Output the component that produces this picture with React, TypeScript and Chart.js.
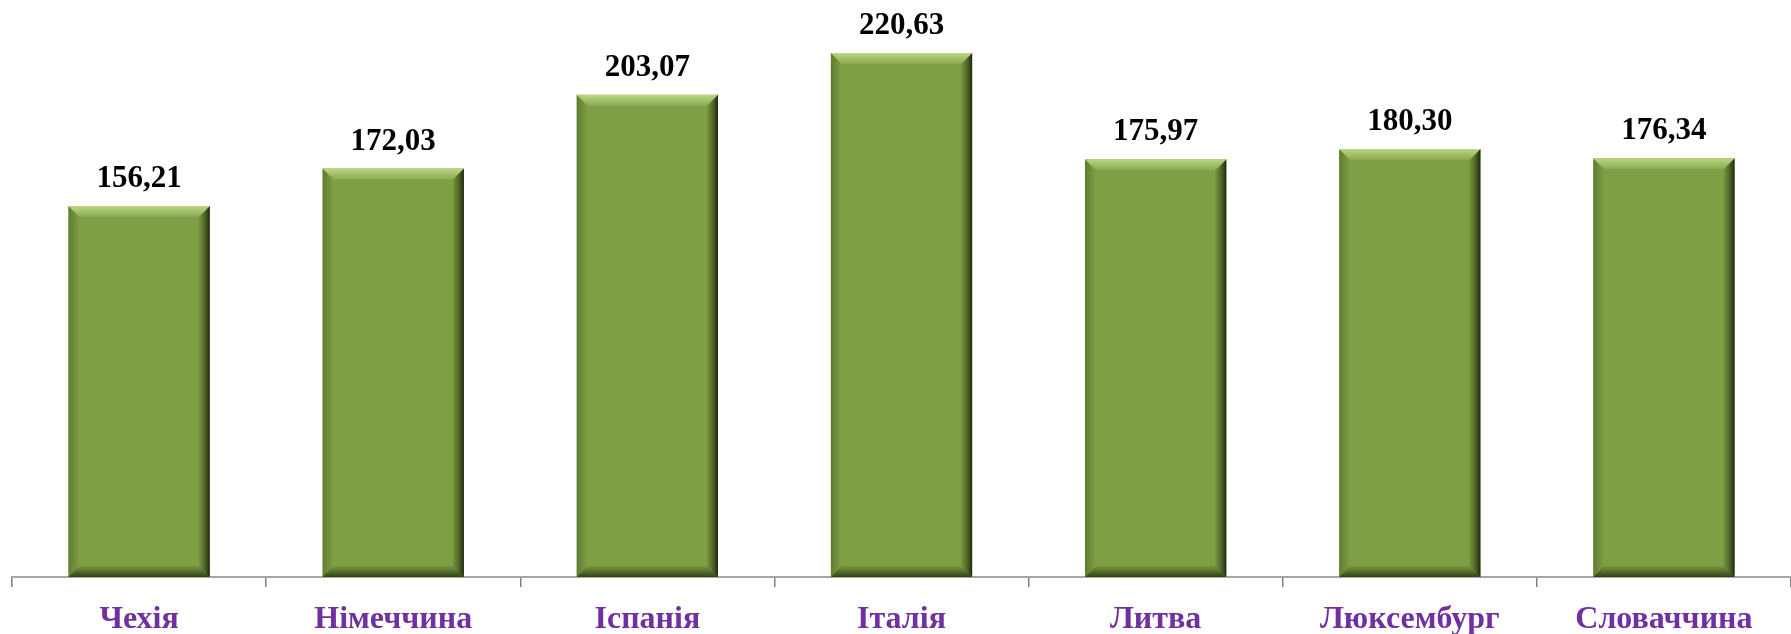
import React, { useEffect, useRef } from "react";
import { Chart, registerables } from "chart.js";

Chart.register(...registerables);

const categories = ["Чехія", "Німеччина", "Іспанія", "Італія", "Литва", "Люксембург", "Словаччина"];
const values = [156.21, 172.03, 203.07, 220.63, 175.97, 180.3, 176.34];
const valueLabels = ["156,21", "172,03", "203,07", "220,63", "175,97", "180,30", "176,34"];

const bevelPlugin = {
  id: "bevel",
  afterDatasetsDraw(chart: any) {
    const ctx = chart.ctx;
    const meta = chart.getDatasetMeta(0);
    meta.data.forEach((bar: any, i: number) => {
      const { x, y, base, width } = bar.getProps(["x", "y", "base", "width"], true);
      const L = x - width / 2;
      const R = x + width / 2;
      const T = Math.min(y, base);
      const B = Math.max(y, base);
      const d = 11;
      ctx.save();
      // left
      let g = ctx.createLinearGradient(L, 0, L + d, 0);
      g.addColorStop(0, "rgba(70,95,30,0.55)");
      g.addColorStop(1, "rgba(70,95,30,0.0)");
      ctx.fillStyle = g;
      ctx.beginPath();
      ctx.moveTo(L, T); ctx.lineTo(L + d, T + d); ctx.lineTo(L + d, B - d); ctx.lineTo(L, B); ctx.closePath();
      ctx.fill();
      // right
      g = ctx.createLinearGradient(R - d, 0, R, 0);
      g.addColorStop(0, "rgba(40,55,15,0.1)");
      g.addColorStop(0.5, "rgba(40,55,15,0.5)");
      g.addColorStop(1, "rgba(25,32,10,0.95)");
      ctx.fillStyle = g;
      ctx.beginPath();
      ctx.moveTo(R, T); ctx.lineTo(R - d, T + d); ctx.lineTo(R - d, B - d); ctx.lineTo(R, B); ctx.closePath();
      ctx.fill();
      // bottom
      g = ctx.createLinearGradient(0, B - d, 0, B);
      g.addColorStop(0, "rgba(40,55,15,0.1)");
      g.addColorStop(1, "rgba(30,42,12,0.8)");
      ctx.fillStyle = g;
      ctx.beginPath();
      ctx.moveTo(L, B); ctx.lineTo(R, B); ctx.lineTo(R - d, B - d); ctx.lineTo(L + d, B - d); ctx.closePath();
      ctx.fill();
      // top
      g = ctx.createLinearGradient(0, T, 0, T + d);
      g.addColorStop(0, "#bcd687");
      g.addColorStop(0.5, "#a2c068");
      g.addColorStop(1, "#8aa951");
      ctx.fillStyle = g;
      ctx.beginPath();
      ctx.moveTo(L, T); ctx.lineTo(R, T); ctx.lineTo(R - d, T + d); ctx.lineTo(L + d, T + d); ctx.closePath();
      ctx.fill();
      // value label
      ctx.fillStyle = "#000";
      ctx.font = "bold 31px 'Liberation Serif', 'Times New Roman', serif";
      ctx.textAlign = "center";
      ctx.textBaseline = "alphabetic";
      ctx.fillText(valueLabels[i], x, T - 19);
      ctx.restore();
    });
  },
};

export default function App() {
  const ref = useRef<HTMLCanvasElement>(null);
  useEffect(() => {
    const chart = new Chart(ref.current!, {
      type: "bar",
      data: {
        labels: categories,
        datasets: [
          {
            data: values,
            backgroundColor: "#7f9f45",
            borderWidth: 0,
            categoryPercentage: 1,
            barPercentage: 0.556,
          },
        ],
      },
      options: {
        animation: false,
        responsive: false,
        layout: { padding: { left: 12, right: 0, top: 0, bottom: 0 } },
        plugins: { legend: { display: false }, tooltip: { enabled: false } },
        scales: {
          x: {
            afterFit: (s: any) => { s.height = 57; },
            grid: {
              display: true,
              drawOnChartArea: false,
              drawTicks: true,
              tickLength: 10,
              color: "#7f7f7f",
              lineWidth: 1.5,
              offset: true,
            },
            border: { display: true, color: "#a6a6a6", width: 2 },
            ticks: {
              color: "#7030a0",
              padding: 14,
              font: { family: "'Liberation Serif', 'Times New Roman', serif", size: 32, weight: "bold" },
              maxRotation: 0,
              autoSkip: false,
            },
          },
          y: { display: false, min: 0, max: 243 },
        },
      },
      plugins: [bevelPlugin],
    });
    return () => chart.destroy();
  }, []);
  return (
    <div style={{ position: "absolute", left: 0, top: 0, width: 1791, height: 634 }}>
      <canvas ref={ref} width={1791} height={634} style={{ width: 1791, height: 634 }} />
    </div>
  );
}
